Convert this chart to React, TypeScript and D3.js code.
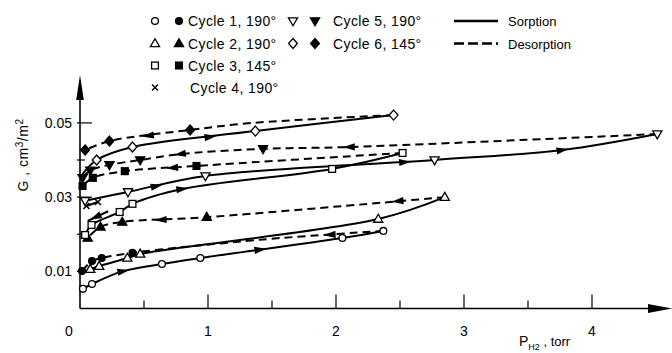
import React from 'react';
import * as d3 from 'd3';

type Pt = [number, number, number]; // [P (torr), G (cm3/m2), marker shown]

// ---- axis ticks ----
const xTicks = [0, 1, 2, 3, 4];
const xMinor = [0.5, 1.5, 2.5, 3.5];
const yTicks = [0.01, 0.03, 0.05];
const yMinor = [0.02, 0.04];

// ---- data ----
const cycle1Sorption: Pt[] = [[0.023, 0.0053, 1], [0.094, 0.0066, 1], [0.33, 0.0100, 0], [0.64, 0.0120, 1], [0.94, 0.0136, 1], [2.05, 0.0190, 1], [2.37, 0.0209, 1]];
const cycle1Desorption: Pt[] = [[2.37, 0.0209, 0], [1.43, 0.0186, 0], [0.41, 0.0150, 1], [0.17, 0.0136, 1], [0.094, 0.0128, 1], [0.016, 0.0101, 1]];
const cycle2Sorption: Pt[] = [[0.08, 0.0106, 1], [0.15, 0.0114, 1], [0.37, 0.0136, 1], [0.47, 0.0147, 1], [2.33, 0.0241, 1], [2.85, 0.0300, 1]];
const cycle2Desorption: Pt[] = [[2.85, 0.0300, 0], [0.99, 0.0246, 1], [0.33, 0.0233, 1], [0.16, 0.0220, 1], [0.06, 0.0190, 1]];
const cycle3Sorption: Pt[] = [[0.04, 0.0198, 1], [0.09, 0.0225, 1], [0.31, 0.0260, 1], [0.41, 0.0282, 1], [0.8, 0.0322, 0], [1.97, 0.0376, 1], [2.52, 0.0419, 1]];
const cycle3Desorption: Pt[] = [[2.52, 0.0419, 0], [0.91, 0.0384, 1], [0.35, 0.0370, 1], [0.1, 0.0352, 1], [0.02, 0.0330, 1]];
const cycle4Sorption: Pt[] = [[0.05, 0.0276, 1], [0.14, 0.0287, 1]];
const cycle4Desorption: Pt[] = [[0.22, 0.0262, 0], [0.06, 0.0236, 0]];
const cycle5Sorption: Pt[] = [[0.04, 0.0290, 1], [0.375, 0.0314, 1], [0.98, 0.0357, 1], [2.77, 0.0400, 1], [3.77, 0.0427, 0], [4.51, 0.0470, 1]];
const cycle5Desorption: Pt[] = [[4.51, 0.0470, 0], [2.1, 0.0435, 0], [1.43, 0.0430, 1], [0.78, 0.0416, 0], [0.47, 0.0400, 1], [0.23, 0.0387, 1], [0.08, 0.0372, 1], [0.02, 0.0352, 1]];
const cycle6Sorption: Pt[] = [[0.02, 0.0362, 0], [0.13, 0.0400, 1], [0.41, 0.0435, 1], [1.37, 0.0478, 1], [2.45, 0.0521, 1]];
const cycle6Desorption: Pt[] = [[2.45, 0.0521, 0], [1.35, 0.0500, 0], [0.86, 0.0481, 1], [0.23, 0.0451, 1], [0.04, 0.0427, 1]];

// arrow positions (P values) along each curve
const cycle1SorptionArrows = [0.34, 1.41];
const cycle1DesorptionArrows = [1.95];
const cycle2SorptionArrows: number[] = [];
const cycle2DesorptionArrows = [2.48, 0.63];
const cycle3SorptionArrows = [0.8];
const cycle3DesorptionArrows = [0.72];
const cycle4DesorptionArrows = [0.12];
const cycle5SorptionArrows = [0.6, 2.54, 3.77];
const cycle5DesorptionArrows = [2.1, 0.78];
const cycle6SorptionArrows = [1.02];
const cycle6DesorptionArrows = [0.53];

const legendCycles = ['Cycle 1, 190°', 'Cycle 2, 190°', 'Cycle 3, 145°', 'Cycle 4, 190°', 'Cycle 5, 190°', 'Cycle 6, 145°'];
const legendModes = ['Sorption', 'Desorption'];

type MType = 'circle' | 'triUp' | 'square' | 'cross' | 'triDown' | 'diamond';

const series: { pts: Pt[]; marker: MType; filled: boolean; dashed: boolean; arrows: number[]; dir: number }[] = [
  { pts: cycle1Sorption, marker: 'circle', filled: false, dashed: false, arrows: cycle1SorptionArrows, dir: 1 },
  { pts: cycle1Desorption, marker: 'circle', filled: true, dashed: true, arrows: cycle1DesorptionArrows, dir: -1 },
  { pts: cycle2Sorption, marker: 'triUp', filled: false, dashed: false, arrows: cycle2SorptionArrows, dir: 1 },
  { pts: cycle2Desorption, marker: 'triUp', filled: true, dashed: true, arrows: cycle2DesorptionArrows, dir: -1 },
  { pts: cycle3Sorption, marker: 'square', filled: false, dashed: false, arrows: cycle3SorptionArrows, dir: 1 },
  { pts: cycle3Desorption, marker: 'square', filled: true, dashed: true, arrows: cycle3DesorptionArrows, dir: -1 },
  { pts: cycle4Sorption, marker: 'cross', filled: false, dashed: false, arrows: [], dir: 1 },
  { pts: cycle4Desorption, marker: 'cross', filled: false, dashed: false, arrows: cycle4DesorptionArrows, dir: -1 },
  { pts: cycle5Sorption, marker: 'triDown', filled: false, dashed: false, arrows: cycle5SorptionArrows, dir: 1 },
  { pts: cycle5Desorption, marker: 'triDown', filled: true, dashed: true, arrows: cycle5DesorptionArrows, dir: -1 },
  { pts: cycle6Sorption, marker: 'diamond', filled: false, dashed: false, arrows: cycle6SorptionArrows, dir: 1 },
  { pts: cycle6Desorption, marker: 'diamond', filled: true, dashed: true, arrows: cycle6DesorptionArrows, dir: -1 },
];

const W = 672;
const H = 353;
const FONT = '"Liberation Sans", Arial, sans-serif';

const x = d3.scaleLinear().domain([0, 4]).range([80, 592]);
const y = d3.scaleLinear().domain([0, 0.05]).range([308.5, 122.9]);

function interp(pts: Pt[], p: number): number {
  for (let i = 0; i < pts.length - 1; i++) {
    const a = pts[i], b = pts[i + 1];
    const lo = Math.min(a[0], b[0]), hi = Math.max(a[0], b[0]);
    if (p >= lo && p <= hi) {
      const t = hi === lo ? 0 : (p - a[0]) / (b[0] - a[0]);
      return a[1] + t * (b[1] - a[1]);
    }
  }
  return pts[pts.length - 1][1];
}

function Marker({ type, filled, cx, cy }: { type: MType; filled: boolean; cx: number; cy: number }) {
  const fill = filled ? '#000' : '#fff';
  const common = { fill, stroke: '#000', strokeWidth: 1.3 };
  switch (type) {
    case 'circle':
      return <circle cx={cx} cy={cy} r={3.4} {...common} />;
    case 'square':
      return <rect x={cx - 3.4} y={cy - 3.4} width={6.8} height={6.8} {...common} />;
    case 'triUp':
      return <polygon points={`${cx},${cy - 4.8} ${cx + 4.6},${cy + 3.2} ${cx - 4.6},${cy + 3.2}`} {...common} />;
    case 'triDown':
      return <polygon points={`${cx},${cy + 4.8} ${cx + 4.6},${cy - 3.2} ${cx - 4.6},${cy - 3.2}`} {...common} />;
    case 'diamond':
      return <polygon points={`${cx},${cy - 5} ${cx + 4.4},${cy} ${cx},${cy + 5} ${cx - 4.4},${cy}`} {...common} />;
    case 'cross':
      return (
        <g stroke="#000" strokeWidth={1.5}>
          <line x1={cx - 3} y1={cy - 3} x2={cx + 3} y2={cy + 3} />
          <line x1={cx - 3} y1={cy + 3} x2={cx + 3} y2={cy - 3} />
        </g>
      );
  }
  return null;
}

function Arrow({ pts, p, dir }: { pts: Pt[]; p: number; dir: number }) {
  const cx = x(p), cy = y(interp(pts, p));
  const p2 = p + 0.04 * dir;
  const dx = x(p2) - cx, dy = y(interp(pts, p2)) - cy;
  const len = Math.hypot(dx, dy) || 1;
  const ux = dx / len, uy = dy / len;
  const L = 6, Wd = 3.6;
  const tip = [cx + ux * L, cy + uy * L];
  const b1 = [cx - ux * L + -uy * Wd, cy - uy * L + ux * Wd];
  const b2 = [cx - ux * L - -uy * Wd, cy - uy * L - ux * Wd];
  return <polygon points={`${tip[0]},${tip[1]} ${b1[0]},${b1[1]} ${b2[0]},${b2[1]}`} fill="#000" />;
}

export default function App() {
  const line = d3
    .line<Pt>()
    .x((d) => x(d[0]))
    .y((d) => y(d[1]))
    .curve(d3.curveCatmullRom.alpha(0.5));

  const legendRows = [21, 43.5, 65.5, 87.5];
  const legendMarkers: [MType, MType | null][] = [
    ['circle', 'circle'],
    ['triUp', 'triUp'],
    ['square', 'square'],
    ['cross', null],
  ];
  const legendMarkers2: MType[] = ['triDown', 'diamond'];

  return (
    <svg width={W} height={H} style={{ position: 'absolute', left: 0, top: 0, background: '#fff' }} fontFamily={FONT}>
      <rect width={W} height={H} fill="#fff" />
      {/* axes */}
      <line x1={80} y1={y(0)} x2={652} y2={y(0)} stroke="#000" strokeWidth={1.6} />
      <polygon points={`648,${y(0) - 4.5} 672,${y(0)} 648,${y(0) + 4.5}`} fill="#000" />
      <line x1={x(0)} y1={y(0)} x2={x(0)} y2={95} stroke="#000" strokeWidth={1.6} />
      <polygon points={`${x(0) - 3.8},100 ${x(0)},75 ${x(0) + 3.8},100`} fill="#000" />
      {xTicks.filter((t) => t > 0).map((t) => (
        <line key={'xt' + t} x1={x(t)} x2={x(t)} y1={y(0)} y2={y(0) - 14} stroke="#000" strokeWidth={1.2} />
      ))}
      {xMinor.map((t) => (
        <line key={'xm' + t} x1={x(t)} x2={x(t)} y1={y(0)} y2={y(0) - 8} stroke="#000" strokeWidth={1.2} />
      ))}
      {yTicks.map((t) => (
        <line key={'yt' + t} x1={x(0) - 3} x2={x(0) + 12} y1={y(t)} y2={y(t)} stroke="#000" strokeWidth={1.2} />
      ))}
      {yMinor.map((t) => (
        <line key={'ym' + t} x1={x(0) - 3} x2={x(0) + 5} y1={y(t)} y2={y(t)} stroke="#000" strokeWidth={1.2} />
      ))}
      {xTicks.map((t) => (
        <text key={'xl' + t} x={t === 0 ? 69 : x(t)} y={336} fontSize={14} textAnchor="middle" fill="#000">
          {t}
        </text>
      ))}
      {yTicks.map((t) => (
        <text key={'yl' + t} x={72} y={y(t) + 5} fontSize={14} textAnchor="end" fill="#000">
          {d3.format('.2f')(t)}
        </text>
      ))}
      {/* axis titles */}
      <text transform="translate(28,155) rotate(-90)" fontSize={14} textAnchor="middle" fill="#000" letterSpacing={0.5}>
        G , cm<tspan dy={-5} fontSize={10}>3</tspan>
        <tspan dy={5}>/m</tspan>
        <tspan dy={-5} fontSize={10}>2</tspan>
      </text>
      <text x={519} y={346} fontSize={14} fill="#000">
        P<tspan dy={4} fontSize={9}>H2</tspan>
        <tspan dy={-4} fontSize={13}> , torr</tspan>
      </text>

      {/* curves */}
      {series.map((s, i) => (
        <path
          key={'l' + i}
          d={line(s.pts) || ''}
          fill="none"
          stroke="#000"
          strokeWidth={2}
          strokeDasharray={s.dashed ? '8 5' : undefined}
        />
      ))}
      {series.map((s, i) =>
        s.arrows.map((p, j) => <Arrow key={'a' + i + '-' + j} pts={s.pts} p={p} dir={s.dir} />)
      )}
      {series.map((s, i) =>
        s.pts
          .filter((d) => d[2] === 1)
          .map((d, j) => <Marker key={'m' + i + '-' + j} type={s.marker} filled={s.filled} cx={x(d[0])} cy={y(d[1])} />)
      )}

      {/* legend */}
      {legendRows.map((ry, i) => (
        <g key={'lg' + i}>
          <Marker type={legendMarkers[i][0]} filled={false} cx={155} cy={ry} />
          {legendMarkers[i][1] && <Marker type={legendMarkers[i][1] as MType} filled={true} cx={179} cy={ry} />}
          <text x={i === 3 ? 190 : 188} y={ry + 5} fontSize={14} fill="#000" letterSpacing={0.4}>
            {legendCycles[i]}
          </text>
        </g>
      ))}
      {legendMarkers2.map((m, i) => (
        <g key={'lg2' + i}>
          <Marker type={m} filled={false} cx={293} cy={legendRows[i]} />
          <Marker type={m} filled={true} cx={315} cy={legendRows[i]} />
          <text x={333} y={legendRows[i] + 5} fontSize={14} fill="#000" letterSpacing={0.4}>
            {legendCycles[4 + i]}
          </text>
        </g>
      ))}
      {legendModes.map((m, i) => (
        <g key={'lm' + i}>
          <line
            x1={454}
            x2={498}
            y1={legendRows[i]}
            y2={legendRows[i]}
            stroke="#000"
            strokeWidth={2.4}
            strokeDasharray={i === 1 ? '10 4' : undefined}
          />
          <text x={508} y={legendRows[i] + 5} fontSize={13} fill="#000">
            {m}
          </text>
        </g>
      ))}
    </svg>
  );
}
